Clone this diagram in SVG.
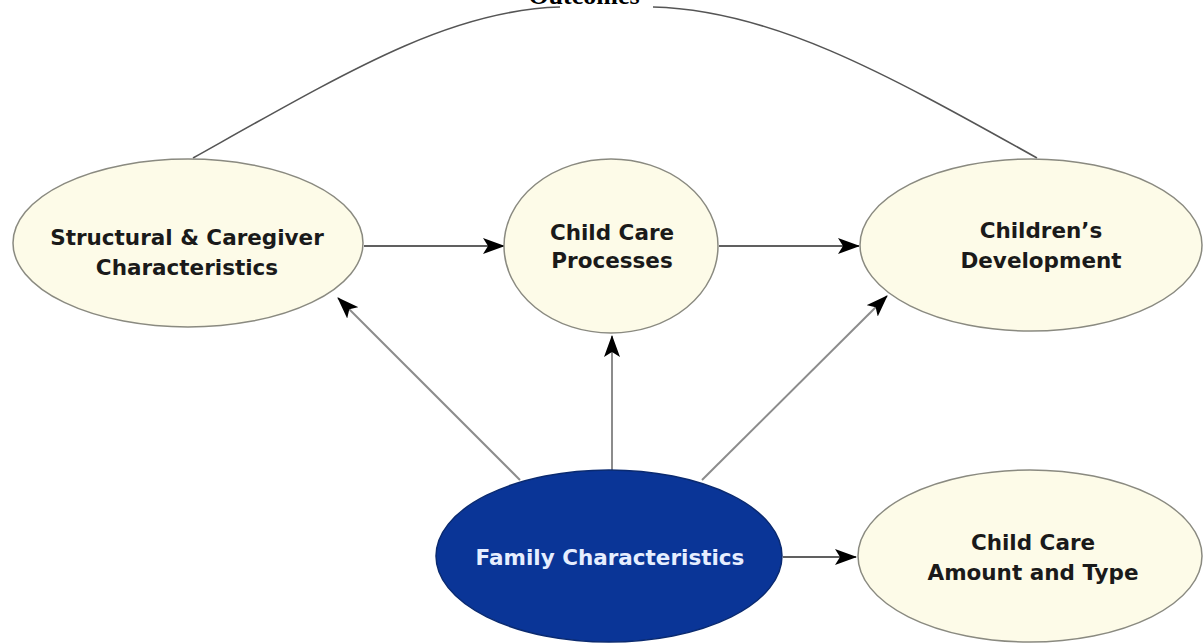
<svg xmlns="http://www.w3.org/2000/svg" width="1204" height="643" viewBox="0 0 1204 643">
<style>
.node{fill:#fdfbe8;stroke:#8a8a80;stroke-width:1.5}
.fam{fill:#0a3597;stroke:#0a2a70;stroke-width:1.5}
.lbl{font-family:"DejaVu Sans","Liberation Sans",sans-serif;font-weight:bold;font-size:21.5px;fill:#1a1a1a;text-anchor:middle}
.wl{fill:#e6eeff}
.edge{stroke:#8c8c8c;stroke-width:2;fill:none}
.edgeh{stroke:#606060;stroke-width:2;fill:none}
.arc{stroke:#555;stroke-width:1.6;fill:none}
.title{font-family:"Liberation Serif","Times New Roman",serif;font-weight:bold;font-size:26px;fill:#000;text-anchor:middle}
</style>
<defs>
<marker id="ah" markerWidth="22" markerHeight="16" refX="21" refY="8" orient="auto" markerUnits="userSpaceOnUse">
<path d="M0,0 L22,8 L0,16 L5,8 Z" fill="#000"/>
</marker>
</defs>
<rect width="1204" height="643" fill="#fff"/>
<text class="title" x="584" y="4">Outcomes</text>
<g id="connectors">
<path class="arc" d="M193,158 C350,70 450,10 560,7"/>
<path class="arc" d="M653,7 C770,10 880,70 1037,158"/>
<line class="edgeh" x1="364" y1="246" x2="504" y2="246" marker-end="url(#ah)"/>
<line class="edgeh" x1="719" y1="246" x2="859" y2="246" marker-end="url(#ah)"/>
<line class="edgeh" x1="783" y1="557" x2="856" y2="557" marker-end="url(#ah)"/>
<line class="edge" x1="520" y1="480" x2="338" y2="298" marker-end="url(#ah)"/>
<line class="edge" x1="612" y1="470" x2="612" y2="336" marker-end="url(#ah)"/>
<line class="edge" x1="702" y1="480" x2="887" y2="296" marker-end="url(#ah)"/>
</g>
<g id="structural">
<ellipse class="node" cx="188" cy="243" rx="175" ry="84"/>
<text class="lbl" x="187" y="245">Structural &amp; Caregiver</text>
<text class="lbl" x="187" y="275">Characteristics</text>
</g>
<g id="processes">
<ellipse class="node" cx="611" cy="246" rx="107" ry="87"/>
<text class="lbl" x="612" y="240">Child Care</text>
<text class="lbl" x="612" y="268">Processes</text>
</g>
<g id="development">
<ellipse class="node" cx="1031" cy="245" rx="171" ry="86"/>
<text class="lbl" x="1041" y="238">Children’s</text>
<text class="lbl" x="1041" y="268">Development</text>
</g>
<g id="family">
<ellipse class="fam" cx="609" cy="556" rx="173" ry="86"/>
<text class="lbl wl" x="610" y="565">Family Characteristics</text>
</g>
<g id="amount">
<ellipse class="node" cx="1030" cy="556" rx="172" ry="86"/>
<text class="lbl" x="1033" y="550">Child Care</text>
<text class="lbl" x="1033" y="580">Amount and Type</text>
</g>
</svg>
